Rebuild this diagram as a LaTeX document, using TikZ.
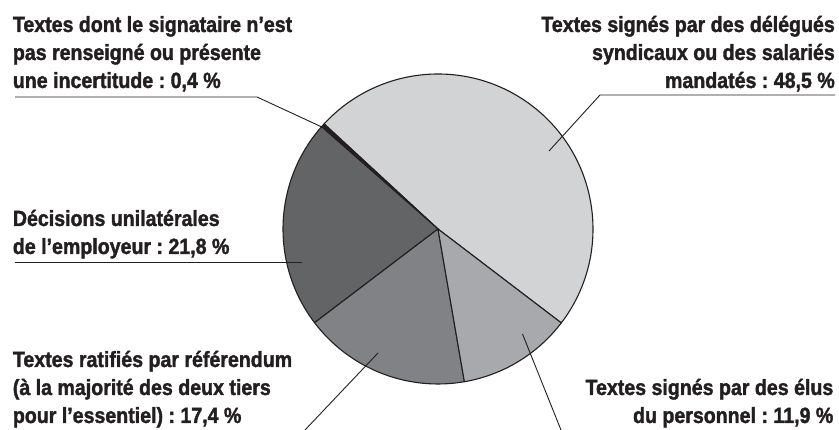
\documentclass[tikz,border=0pt]{standalone}
\usepackage{fontspec}
\setmainfont{Liberation Sans}
\newfontfamily\labfont{Liberation Sans Bold}[FakeStretch=0.89, FakeBold=1.6]
\frenchspacing
\definecolor{txt}{HTML}{231F20}
\definecolor{cLight}{HTML}{D1D3D4}
\definecolor{cBlack}{HTML}{231F20}
\definecolor{cDark}{HTML}{636466}
\definecolor{cMid}{HTML}{808285}
\definecolor{cLighter}{HTML}{A7A9AC}
\begin{document}
\begin{tikzpicture}[x=1pt,y=1pt,
  lab/.style={font=\labfont\fontsize{22}{28}\selectfont, text=txt, inner sep=0pt, align=left},
  labr/.style={lab, align=right},
  slice/.style={draw=txt, line width=1.1pt, line join=round},
  leader/.style={draw=txt, line width=0.9pt}]
\useasboundingbox (0,0) rectangle (839,430);
\coordinate (C) at (438,201);
\def\R{155}
% pie slices
\filldraw[slice, fill=cLight] (C) -- ++(-37.3:\R) arc[start angle=-37.3, end angle=137.3, radius=\R] -- cycle;
\filldraw[slice, fill=cBlack] (C) -- ++(137.3:\R) arc[start angle=137.3, end angle=138.7, radius=\R] -- cycle;
\filldraw[slice, fill=cDark] (C) -- ++(138.7:\R) arc[start angle=138.7, end angle=217.2, radius=\R] -- cycle;
\filldraw[slice, fill=cMid] (C) -- ++(217.2:\R) arc[start angle=217.2, end angle=279.8, radius=\R] -- cycle;
\filldraw[slice, fill=cLighter] (C) -- ++(279.8:\R) arc[start angle=279.8, end angle=322.7, radius=\R] -- cycle;
% labels (anchored at the baseline of the last line)
\node[lab, anchor=base west] (t1) at (12.7,342) {Textes dont le signataire n’est\\pas renseigné ou présente\\une incertitude : 0,4 \%};
\node[labr, anchor=base east] (t2) at (835,342) {Textes signés par des délégués\\syndicaux ou des salariés\\mandatés : 48,5 \%};
\node[lab, anchor=base west] (t3) at (12.7,176) {Décisions unilatérales\\de l’employeur : 21,8 \%};
\node[lab, anchor=base west] (t4) at (12.7,7) {Textes ratifiés par référendum\\(à la majorité des deux tiers\\pour l’essentiel) : 17,4 \%};
\node[labr, anchor=base east] (t5) at (833.5,7) {Textes signés par des élus\\du personnel : 11,9 \%};
% leader coordinates
\coordinate (a1) at (15,333);
\coordinate (b1) at (257,333);
\coordinate (p1) at (324,302);
\coordinate (a2) at (835,335);
\coordinate (b2) at (600,335);
\coordinate (p2) at (549,279);
\coordinate (a3) at (15,168);
\coordinate (p3) at (302,168);
\coordinate (a4) at (305,0);
\coordinate (p4) at (378,77);
\coordinate (a5) at (561,0);
\coordinate (p5) at (522.5,96);
% leaders
\draw[leader] (a1) -- (b1) -- (p1);
\draw[leader] (a2) -- (b2) -- (p2);
\draw[leader] (a3) -- (p3);
\draw[leader] (a4) -- (p4);
\draw[leader] (a5) -- (p5);
\end{tikzpicture}
\end{document}
